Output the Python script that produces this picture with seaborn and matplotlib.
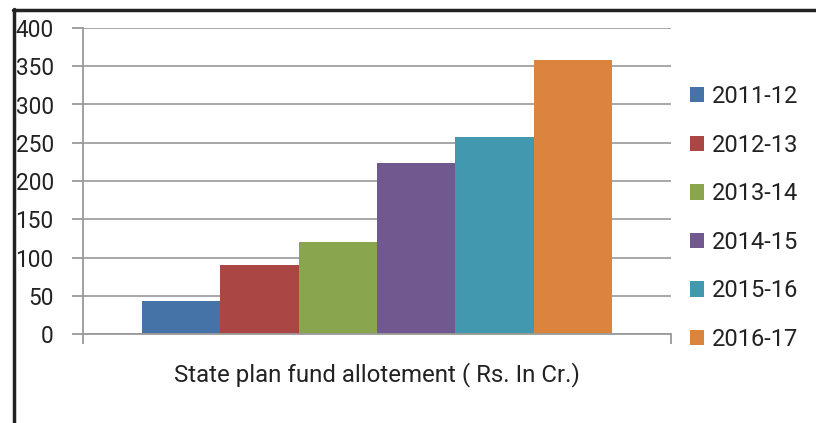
import matplotlib
matplotlib.use("Agg")
import matplotlib.pyplot as plt
import seaborn as sns
import pandas as pd
from matplotlib.lines import Line2D

years = ["2011-12", "2012-13", "2013-14", "2014-15", "2015-16", "2016-17"]
values = [43, 90, 120, 223, 257, 358]
category = "State plan fund allotement ( Rs. In Cr.)"
colors = ["#4572A7", "#AA4643", "#89A54E", "#71588F", "#4198AF", "#DB843D"]
yticks = [0, 50, 100, 150, 200, 250, 300, 350, 400]

df = pd.DataFrame({"cat": [category] * len(years), "year": years, "value": values})

sns.set_theme(style="white")
plt.rcParams["font.family"] = ["Roboto", "DejaVu Sans"]

fig = plt.figure(figsize=(8.16, 4.23), dpi=100)
ax = fig.add_axes([83 / 816, 1 - 334 / 423, (671 - 83) / 816, (334 - 28) / 423])

sns.barplot(data=df, x="cat", y="value", hue="year", palette=colors,
            width=0.8, saturation=1, ax=ax, legend=True, linewidth=0)

ax.set_xlim(-0.5, 0.5)
ax.set_ylim(0, 400)
ax.set_yticks(yticks)
ax.set_yticklabels([str(v) for v in yticks], fontsize=16.3, color="#222222")
ax.set_xticks([-0.5, 0.5])
ax.set_xticklabels(["", ""])
ax.tick_params(axis="y", length=8, width=1.3, color="#9a9a9a", pad=13, left=True)
ax.tick_params(axis="x", length=7, width=1.3, color="#9a9a9a", bottom=True)
ax.set_xlabel("")
ax.set_ylabel("")
ax.yaxis.grid(True, color="#a0a0a0", linewidth=1.3)
ax.set_axisbelow(True)
for s in ["top", "right"]:
    ax.spines[s].set_visible(False)
ax.spines["left"].set_color("#9a9a9a")
ax.spines["left"].set_linewidth(1.3)
ax.spines["bottom"].set_color("#9a9a9a")
ax.spines["bottom"].set_linewidth(1.3)

fig.text(377 / 816, 1 - 375 / 423, category, ha="center", va="center",
         fontsize=17.3, color="#222222")

handles, labels = ax.get_legend_handles_labels()
ax.legend(handles, labels, loc="center left", bbox_to_anchor=(685 / 816, 1 - 218 / 423),
          bbox_transform=fig.transFigure, frameon=False, fontsize=17,
          handlelength=0.62, handleheight=0.62, handletextpad=0.3, labelspacing=1.085,
          labelcolor="#222222", borderaxespad=0, borderpad=0.2)

fig.add_artist(Line2D([14 / 816, 14 / 816], [0, 1 - 9 / 423], color="#222222",
                      linewidth=2.5, transform=fig.transFigure))
fig.add_artist(Line2D([13 / 816, 1], [1 - 10 / 423, 1 - 10 / 423], color="#222222",
                      linewidth=2.5, transform=fig.transFigure))

fig.savefig("out.png", dpi=100)
